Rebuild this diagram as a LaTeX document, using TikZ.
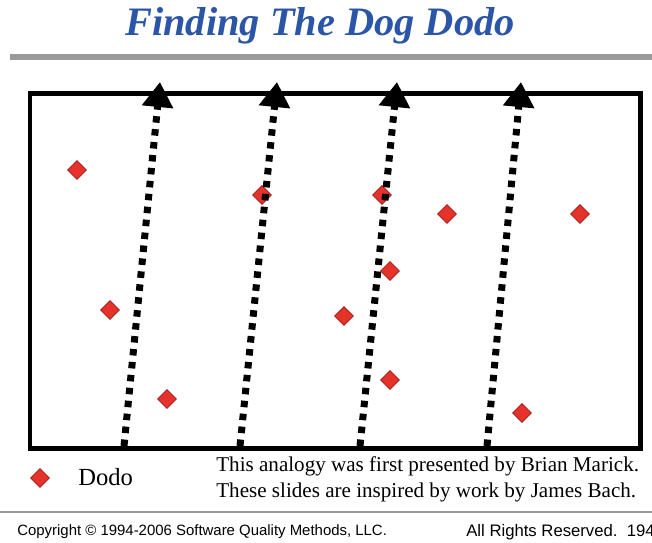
\documentclass[tikz,border=0pt]{standalone}
\usepackage{fontspec}
\setmainfont{Liberation Serif}
\setsansfont{Liberation Sans}
\usepackage{tikz}
\usetikzlibrary{shapes.geometric,arrows.meta}

\definecolor{titleblue}{HTML}{2B56A8}
\definecolor{dodored}{HTML}{E5332B}
\definecolor{dodoedge}{HTML}{A01414}
\definecolor{rulegray}{HTML}{9A9A9A}

\tikzset{
	dodo/.style={diamond, fill=dodored, draw=dodoedge, line width=0.15mm, minimum size=3.8mm, inner sep=0pt},
	sweep/.style={line width=1.4mm, dash pattern=on 1.3mm off 1.3mm, -{Triangle[width=6mm,length=5mm]}},
	notetext/.style={anchor=west, inner sep=0pt, font=\fontsize{12}{14}\selectfont}
}

\begin{document}
\begin{tikzpicture}[x=0.02cm,y=-0.02cm]
	\useasboundingbox (0,0) rectangle (652,542);
	
	% title and rule
	\node[text=titleblue, font=\fontsize{23}{26}\selectfont\bfseries\itshape] (title) at (320,26) {Finding The Dog Dodo};
	\draw[rulegray, line width=1.2mm] (10,57) -- (652,57);
	
	% field
	\draw[line width=1mm] (30,93) rectangle (640,448);
	
	% dodos
	\node[dodo] (d1) at (77,170) {};
	\node[dodo] (d2) at (262,195) {};
	\node[dodo] (d3) at (382,195) {};
	\node[dodo] (d4) at (447,214) {};
	\node[dodo] (d5) at (580,214) {};
	\node[dodo] (d6) at (390,271) {};
	\node[dodo] (d7) at (110,310) {};
	\node[dodo] (d8) at (344,316) {};
	\node[dodo] (d9) at (390,380) {};
	\node[dodo] (d10) at (167,399) {};
	\node[dodo] (d11) at (522,413) {};
	
	% sweeps
	\coordinate (sA) at (124,446);
	\coordinate (eA) at (160,82);
	\coordinate (sB) at (240,446);
	\coordinate (eB) at (277,82);
	\coordinate (sC) at (360,446);
	\coordinate (eC) at (397,82);
	\coordinate (sD) at (487,446);
	\coordinate (eD) at (521,82);
	\draw[sweep] (sA) -- (eA);
	\draw[sweep] (sB) -- (eB);
	\draw[sweep] (sC) -- (eC);
	\draw[sweep] (sD) -- (eD);
	
	% legend and notes
	\node[dodo] (key) at (40,478) {};
	\node[anchor=west, inner sep=0pt, font=\fontsize{14}{16}\selectfont] (keylabel) at (78,477) {Dodo};
	\node[notetext] (note1) at (216,466) {This analogy was first presented by Brian Marick.};
	\node[notetext] (note2) at (216,492) {These slides are inspired by work by James Bach.};
	
	% footer
	\draw[rulegray, line width=0.4mm] (0,512) -- (652,512);
	\node[anchor=west, inner sep=0pt, font=\sffamily\fontsize{8.5}{10}\selectfont] (copy) at (17,532) {Copyright \textcopyright{} 1994-2006 Software Quality Methods, LLC.};
	\node[anchor=west, inner sep=0pt, font=\sffamily\fontsize{9.5}{11}\selectfont] (rights) at (466,532) {All Rights Reserved.\ \ 194};
\end{tikzpicture}
\end{document}
